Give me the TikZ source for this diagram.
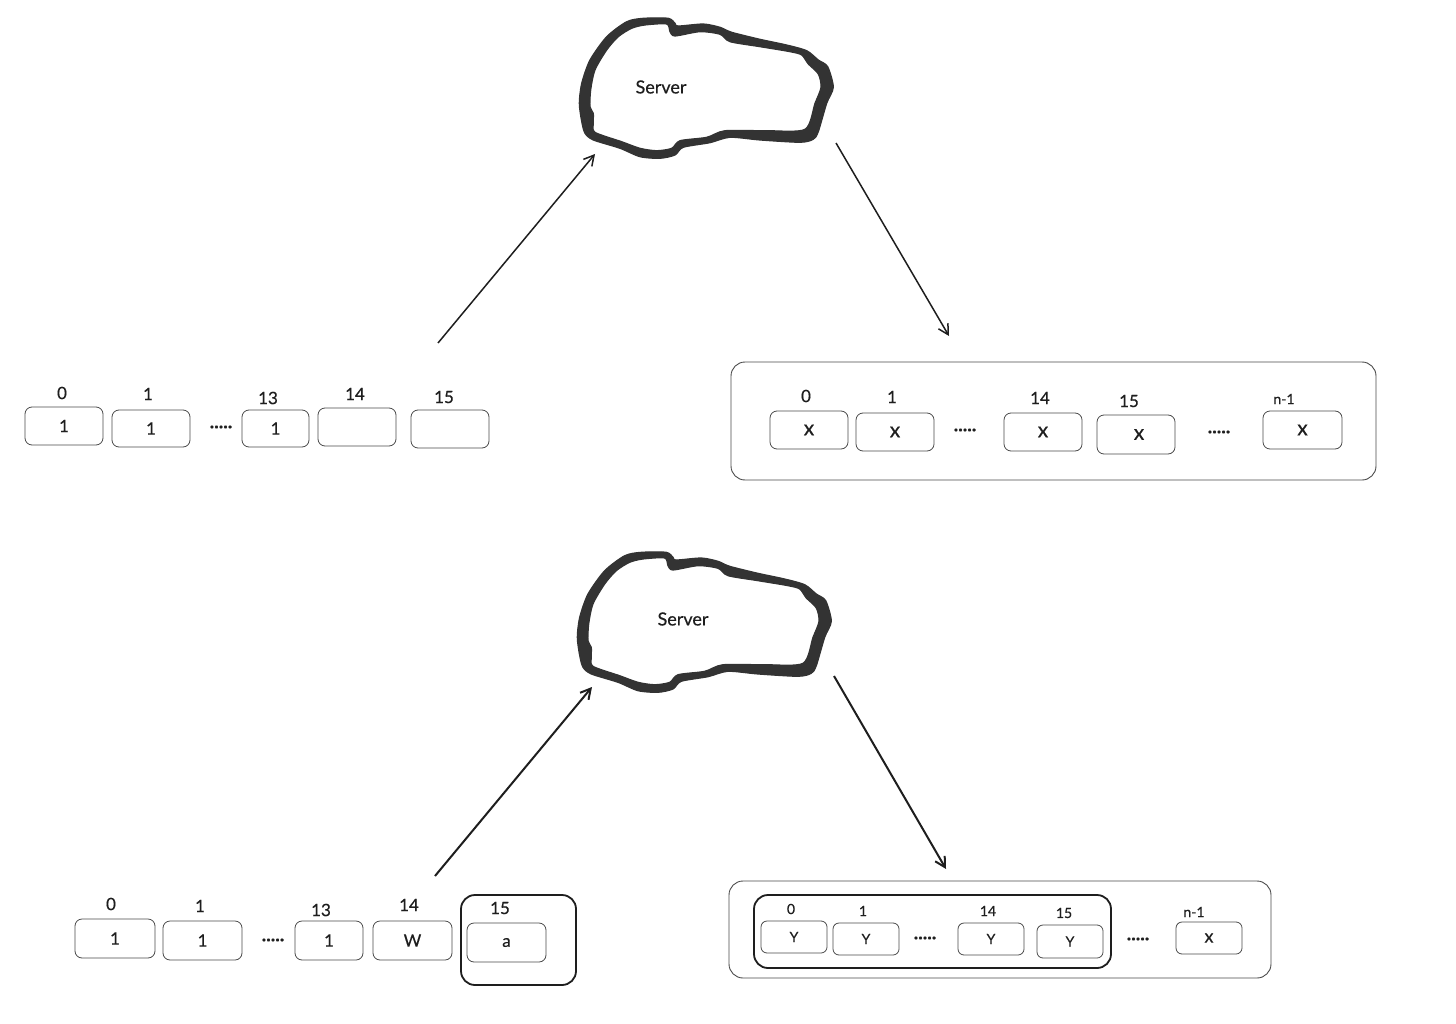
\documentclass[tikz,border=0pt]{standalone}
\usepackage{fontspec}
\setmainfont{Lato}[RawFeature={embolden=0.5}]
\definecolor{ink}{HTML}{1E1E1E}
\definecolor{cloudink}{HTML}{333333}
\definecolor{cellink}{HTML}{4A4A4A}
\usetikzlibrary{arrows.meta}
\tikzset{
  x=1pt,y=-1pt,
  cell/.style={draw=cellink,line width=0.8pt,rounded corners=7pt,inner sep=0pt,text=ink,font=\fontsize{17}{17}\selectfont},
  smallcell/.style={cell,rounded corners=6pt,font=\fontsize{14}{14}\selectfont},
  frame/.style={draw=cellink,line width=0.9pt,rounded corners=14pt,inner sep=0pt},
  boldframe/.style={draw=ink,line width=1.8pt,rounded corners=14pt,inner sep=0pt},
  idx/.style={inner sep=0pt,text=ink,font=\fontsize{17}{17}\selectfont},
  smallidx/.style={inner sep=0pt,text=ink,font=\fontsize{14}{14}\selectfont},
  dots/.style={inner sep=0pt,text=ink,font=\bfseries\fontsize{19}{19}\selectfont},
  servertext/.style={inner sep=0pt,text=ink,font=\fontsize{18}{18}\selectfont},
  link/.style={draw=ink,line width=1.5pt,-{Straight Barb[length=10pt,width=11pt,line width=1.5pt]}},
  boldlink/.style={link,line width=2pt,-{Straight Barb[length=10pt,width=11pt,line width=2pt]}},
  cloudpath/.style={fill=cloudink,draw=cloudink,line width=1.2pt,line join=round,even odd rule},
}
% name, style, x1, y1, x2, y2, text
\newcommand{\bx}[7]{%
  \pgfmathsetmacro{\bxw}{#5-#3}\pgfmathsetmacro{\bxh}{#6-#4}%
  \pgfmathsetmacro{\bxx}{(#3+#5)/2}\pgfmathsetmacro{\bxy}{(#4+#6)/2}%
  \node[#2,minimum width=\bxw pt,minimum height=\bxh pt] (#1) at (\bxx,\bxy) {#7};}
\newcommand{\bigx}{{\fontsize{21}{21}\selectfont x}}
\newcommand{\midx}{{\fontsize{18}{18}\selectfont x}}
\newcommand{\cloudshape}{%
  \path[cloudpath]
   plot[smooth cycle,tension=0.45] coordinates {
    (626.7,21.7)(643.3,18.3)(668.3,18.3)(675,23.3)(678.3,26)(703.3,24)(720,27.3)(731.7,32.3)(760,39.3)(786.7,45)(806.7,50.7)(818.3,60)(827.7,66.7)(833.3,87.3)(826.7,103.3)(818.3,131.7)(813.3,139.3)(800,142.3)(760,140)(730,137.3)(710,142.7)(683.3,147.3)(675,155)(660,158.3)(640,156.7)(620,148.3)(593.3,140)(585,133.3)(581.7,121.7)(579.3,103.3)(581.7,83.3)(590,60)(606.7,36.7)}
   plot[smooth cycle,tension=0.45] coordinates {
    (631.7,28.3)(645,25)(666.7,24)(670,31.7)(675,36)(700,31.7)(720,34.3)(730,41.7)(760,46.7)(790,51.7)(801.7,55)(808.3,64)(818.3,74)(821,87.3)(815,103.3)(805,129.3)(766.7,130.7)(725,130.7)(706.7,137.3)(680,140.7)(671.7,148.3)(656.7,150.7)(640,148.3)(621.7,141.7)(595,132.3)(593.3,123.3)(593.3,113.3)(590,106.7)(590.7,90)(595,70)(606.7,50)(618.3,36.7)};}
\begin{document}
\begin{tikzpicture}
\useasboundingbox (0,0) rectangle (1456,1024);
% ---------- top ----------
\cloudshape
\node[servertext] (srvA) at (661,87) {Server};
\coordinate (upAs) at (438,343);
\coordinate (upAe) at (595,154);
\coordinate (dnAs) at (836,143);
\coordinate (dnAe) at (949,336);
\draw[link] (upAs) -- (upAe);
\draw[link] (dnAs) -- (dnAe);

\bx{a0}{cell}{25}{407}{103}{445}{1}
\bx{a1}{cell}{112}{410}{190}{447}{1}
\bx{a13}{cell}{242}{410}{309}{447}{1}
\bx{a14}{cell}{318}{408}{396}{446}{}
\bx{a15}{cell}{411}{410}{489}{448}{}
\node[idx] (la0) at (62,393) {0};
\node[idx] (la1) at (148,394) {1};
\node[idx] (la13) at (268,398) {13};
\node[idx] (la14) at (355,394) {14};
\node[idx] (la15) at (444,397) {15};
\node[dots] (da) at (221,427) {.....};

\bx{bf}{frame}{731}{362}{1376}{480}{}
\bx{b0}{cell}{770}{411}{848}{449}{\bigx}
\bx{b1}{cell}{856}{413}{934}{451}{\bigx}
\bx{b14}{cell}{1004}{413}{1082}{451}{\bigx}
\bx{b15}{cell}{1097}{415}{1175}{454}{\hspace{6pt}\bigx}
\bx{bn}{cell}{1263}{411}{1342}{449}{\bigx}
\node[idx] (lb0) at (806,396) {0};
\node[idx] (lb1) at (892,397) {1};
\node[idx] (lb14) at (1040,398) {14};
\node[idx] (lb15) at (1129,401) {15};
\node[smallidx] (lbn) at (1284,399) {n-1};
\node[dots] (db1) at (965,430) {.....};
\node[dots] (db2) at (1219,432) {.....};
% ---------- bottom ----------
\begin{scope}[shift={(-2,534)}]\cloudshape\end{scope}
\node[servertext] (srvB) at (683,619) {Server};
\coordinate (upBs) at (435,876);
\coordinate (upBe) at (592,687);
\coordinate (dnBs) at (834,676);
\coordinate (dnBe) at (946,869);
\draw[boldlink] (upBs) -- (upBe);
\draw[boldlink] (dnBs) -- (dnBe);

\bx{c0}{cell}{75}{919}{155}{958}{1}
\bx{c1}{cell}{163}{921}{242}{960}{1}
\bx{c13}{cell}{295}{921}{363}{960}{1}
\bx{c14}{cell}{373}{921}{452}{960}{W}
\bx{cf}{boldframe}{461}{895}{576}{985}{}
\bx{c15}{cell}{467}{923}{546}{962}{a}
\node[idx] (lc0) at (111,904) {0};
\node[idx] (lc1) at (200,906) {1};
\node[idx] (lc13) at (321,910) {13};
\node[idx] (lc14) at (409,905) {14};
\node[idx] (lc15) at (500,908) {15};
\node[dots] (dc) at (273,940) {.....};

\bx{df}{frame}{729}{881}{1271}{978}{}
\bx{dg}{boldframe}{754}{895}{1111}{968}{}
\bx{d0}{smallcell}{761}{921}{827}{953}{Y}
\bx{d1}{smallcell}{833}{923}{899}{955}{Y}
\bx{d14}{smallcell}{958}{923}{1024}{955}{Y}
\bx{d15}{smallcell}{1037}{925}{1103}{958}{Y}
\bx{dn}{smallcell}{1176}{922}{1242}{954}{\midx}
\node[smallidx] (ld0) at (791,909) {0};
\node[smallidx] (ld1) at (863,911) {1};
\node[smallidx] (ld14) at (988,911) {14};
\node[smallidx] (ld15) at (1064,913) {15};
\node[smallidx] (ldn) at (1194,912) {n-1};
\node[dots] (dd1) at (925,938) {.....};
\node[dots] (dd2) at (1138,939) {.....};
\end{tikzpicture}
\end{document}
